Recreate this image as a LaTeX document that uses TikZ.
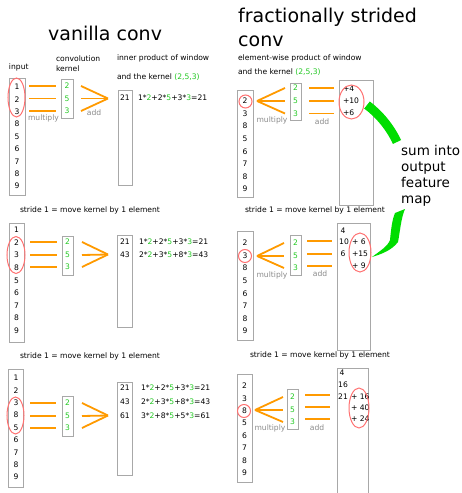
\documentclass[tikz,border=0pt]{standalone}
\usepackage{fontspec}
\setmainfont{DejaVu Sans}
\usetikzlibrary{shapes.geometric}
\definecolor{korange}{HTML}{FF9A00}
\definecolor{kgreen}{HTML}{22C822}
\definecolor{bandgreen}{HTML}{00DD00}
\definecolor{kred}{HTML}{FF7070}
\definecolor{boxgray}{HTML}{A8A8A8}
\definecolor{labelgray}{HTML}{8A8A8A}
\newcommand{\gn}[1]{\textcolor{kgreen}{#1}}
\begin{document}
\begin{tikzpicture}[x=1pt,y=-1pt,
  txt/.style={inner sep=0pt, outer sep=0pt, font=\fontsize{7.6}{9}\selectfont},
  num/.style={txt, anchor=mid},
  lbl/.style={txt, anchor=mid west},
  gnum/.style={num, text=kgreen},
  graylbl/.style={num, text=labelgray},
  colbox/.style={rectangle, draw=boxgray, line width=0.9pt, inner sep=0pt, outer sep=0pt},
  oline/.style={draw=korange, line width=1.8pt},
  ring/.style={ellipse, draw=kred, line width=1pt, inner sep=0pt, outer sep=0pt},
  title/.style={inner sep=0pt, anchor=base west, font=\fontsize{19}{24}\selectfont},
  big/.style={inner sep=0pt, anchor=base west, font=\fontsize{13.5}{16}\selectfont},
]
\useasboundingbox (0,0) rectangle (461,493);

%================ LEFT PANEL 1 =================
\node[title] (t1) at (48,40.7) {vanilla conv};
\node[lbl] (a-input) at (9,67) {input};
\node[lbl] (a-conv) at (56,59) {convolution};
\node[lbl] (a-kern) at (56,69) {kernel};
\node[lbl] (a-ip1) at (117,58) {inner product of window};
\node[lbl] (a-ip2) at (117,77) {and the kernel \gn{(2,5,3)}};
\node[colbox, minimum width=16pt, minimum height=117pt] (a-inbox) at (17,136.5) {};
\foreach \v [count=\i] in {1,2,3,8,5,6,7,8,9}
  \node[num] (a-in\i) at (17,{87+(\i-1)*12.38}) {\v};
\node[ring, minimum width=17pt, minimum height=39pt] (a-ell) at (16.5,97.5) {};
\node[colbox, minimum width=12pt, minimum height=39pt] (a-kbox) at (67,98.5) {};
\coordinate (a-sum) at (108,98.5);
\foreach \y/\v [count=\k] in {86/2,98.5/5,111/3} {
  \node[gnum] (a-k\k) at (67,\y) {\v};
  \coordinate (a-ms\k) at (29,\y); \coordinate (a-me\k) at (56,\y);
  \draw[oline] (a-ms\k) -- (a-me\k);
  \coordinate (a-as\k) at (81,\y);
  \draw[oline] (a-as\k) -- (a-sum);
}
\node[graylbl] (a-mult) at (43.5,117.5) {multiply};
\node[graylbl] (a-add) at (94,112.5) {add};
\node[colbox, minimum width=14pt, minimum height=95pt] (a-obox) at (125,137.5) {};
\node[num] (a-o1) at (125,98) {21};
\node[lbl] (a-eq1) at (138,98) {1*\gn{2}+2*\gn{5}+3*\gn{3}=21};

%================ LEFT PANEL 2 =================
\node[lbl] (b-stride) at (20,210) {stride 1 = move kernel by 1 element};
\node[colbox, minimum width=15pt, minimum height=119pt] (b-inbox) at (16.5,282.5) {};
\foreach \v [count=\i] in {1,2,3,8,5,6,7,8,9}
  \node[num] (b-in\i) at (16.5,{230+(\i-1)*12.6}) {\v};
\node[ring, minimum width=18pt, minimum height=37pt] (b-ell) at (16,255) {};
\node[colbox, minimum width=11pt, minimum height=39pt] (b-kbox) at (67.5,255.5) {};
\coordinate (b-sum) at (108,254.5);
\foreach \y/\v [count=\k] in {242/2,255/5,267/3} {
  \node[gnum] (b-k\k) at (67.5,\y) {\v};
  \coordinate (b-ms\k) at (30,\y); \coordinate (b-me\k) at (57,\y);
  \draw[oline] (b-ms\k) -- (b-me\k);
  \coordinate (b-as\k) at (82,\y);
  \draw[oline] (b-as\k) -- (b-sum);
}
\node[colbox, minimum width=15pt, minimum height=92pt] (b-obox) at (124.5,281) {};
\node[num] (b-o1) at (125,242) {21};
\node[num] (b-o2) at (125,255) {43};
\node[lbl] (b-eq1) at (139,242) {1*\gn{2}+2*\gn{5}+3*\gn{3}=21};
\node[lbl] (b-eq2) at (139,255) {2*\gn{2}+3*\gn{5}+8*\gn{3}=43};

%================ LEFT PANEL 3 =================
\node[lbl] (c-stride) at (20,356) {stride 1 = move kernel by 1 element};
\node[colbox, minimum width=15pt, minimum height=118pt] (c-inbox) at (16,428) {};
\foreach \v [count=\i] in {1,2,3,8,5,6,7,8,9}
  \node[num] (c-in\i) at (16,{378+(\i-1)*12.4}) {\v};
\node[ring, minimum width=17pt, minimum height=37pt] (c-ell) at (15.5,415.5) {};
\node[colbox, minimum width=11pt, minimum height=40pt] (c-kbox) at (67.5,416) {};
\coordinate (c-sum) at (108,415.5);
\foreach \y/\v [count=\k] in {403/2,416/5,428/3} {
  \node[gnum] (c-k\k) at (67.5,\y) {\v};
  \coordinate (c-ms\k) at (30,\y); \coordinate (c-me\k) at (56,\y);
  \draw[oline] (c-ms\k) -- (c-me\k);
  \coordinate (c-as\k) at (82,\y);
  \draw[oline] (c-as\k) -- (c-sum);
}
\node[colbox, minimum width=15pt, minimum height=93pt] (c-obox) at (124.5,428.5) {};
\node[num] (c-o1) at (125,388) {21};
\node[num] (c-o2) at (125,402) {43};
\node[num] (c-o3) at (125,416) {61};
\node[lbl] (c-eq1) at (141,388) {1*\gn{2}+2*\gn{5}+3*\gn{3}=21};
\node[lbl] (c-eq2) at (141,401.5) {2*\gn{2}+3*\gn{5}+8*\gn{3}=43};
\node[lbl] (c-eq3) at (141,416) {3*\gn{2}+8*\gn{5}+5*\gn{3}=61};

%================ RIGHT PANEL 1 =================
\node[title] (t2) at (238,22.7) {fractionally strided};
\node[title] (t3) at (238,46.7) {conv};
\node[lbl] (d-ew1) at (238,58) {element-wise product of window};
\node[lbl] (d-ew2) at (238,72) {and the kernel \gn{(2,5,3)}};
\node[colbox, minimum width=16pt, minimum height=107pt] (d-inbox) at (245,143.5) {};
\foreach \v [count=\i] in {2,3,8,5,6,7,8,9}
  \node[num] (d-in\i) at (245,{101+(\i-1)*12.6}) {\v};
\node[ring, circle, minimum size=13pt] (d-ring) at (245.5,101.5) {};
\coordinate (d-src) at (257,101);
\node[colbox, minimum width=11pt, minimum height=37pt] (d-kbox) at (295.5,101.5) {};
\foreach \y/\v [count=\k] in {88/2,101/5,113.5/3} {
  \node[gnum] (d-k\k) at (295.5,\y) {\v};
  \coordinate (d-fe\k) at (285,\y);
  \draw[oline] (d-src) -- (d-fe\k);
  \coordinate (d-as\k) at (309,\y); \coordinate (d-ae\k) at (334,\y);
  \draw[oline] (d-as\k) -- (d-ae\k);
}
\node[graylbl] (d-mult) at (272,120) {multiply};
\node[graylbl] (d-add) at (322,122) {add};
\node[colbox, minimum width=34pt, minimum height=125pt] (d-obox) at (356,142.5) {};
\node[lbl] (d-o1) at (343,89) {+4};
\node[lbl] (d-o2) at (343,101) {+10};
\node[lbl] (d-o3) at (343,113) {+6};
\node[ring, minimum width=25pt, minimum height=34pt] (d-ell) at (351.5,102) {};
\coordinate (band1s) at (367,105);
\coordinate (band1e) at (397,142);
\draw[draw=bandgreen, line width=9pt] (band1s) .. controls (379,114) and (390,127) .. (band1e);
\node[big] (sum1) at (401,155) {sum into};
\node[big] (sum2) at (401,171) {output};
\node[big] (sum3) at (401,187) {feature};
\node[big] (sum4) at (401,203) {map};

%================ RIGHT PANEL 2 =================
\node[lbl] (e-stride) at (245,210) {stride 1 = move kernel by 1 element};
\fill[bandgreen] (405,209) .. controls (401,218) and (400,232) .. (398,242)
  .. controls (392,250) and (382,254) .. (372,257)
  .. controls (380,251) and (388,246) .. (390,240)
  .. controls (391,230) and (392,220) .. (395,213) -- cycle;
\node[colbox, minimum width=16pt, minimum height=109pt] (e-inbox) at (245,285.5) {};
\foreach \v [count=\i] in {2,3,8,5,6,7,8,9}
  \node[num] (e-in\i) at (245,{243+(\i-1)*12.6}) {\v};
\node[ring, circle, minimum size=13pt] (e-ring) at (245,256) {};
\coordinate (e-src) at (257,256);
\node[colbox, minimum width=11pt, minimum height=40pt] (e-kbox) at (295.5,255) {};
\foreach \y/\v/\ay [count=\k] in {243/2/241,256/5/254,268/3/266} {
  \node[gnum] (e-k\k) at (295.5,\y) {\v};
  \coordinate (e-fe\k) at (284,\y);
  \draw[oline] (e-src) -- (e-fe\k);
  \coordinate (e-as\k) at (307,\ay); \coordinate (e-ae\k) at (332,\ay);
  \draw[oline] (e-as\k) -- (e-ae\k);
}
\node[graylbl] (e-mult) at (272,275) {multiply};
\node[graylbl] (e-add) at (320,274) {add};
\node[colbox, minimum width=33pt, minimum height=127pt] (e-obox) at (353.5,286.5) {};
\node[num] (e-o1) at (343,231) {4};
\node[num] (e-o2) at (344,242) {10};
\node[lbl] (e-p1) at (352,242) {+ 6};
\node[num] (e-o3) at (343,253.5) {6};
\node[lbl] (e-p2) at (352,253.5) {+15};
\node[lbl] (e-p3) at (352,266) {+ 9};
\node[ring, minimum width=22pt, minimum height=39pt] (e-ell) at (360,252.5) {};

%================ RIGHT PANEL 3 =================
\node[lbl] (f-stride) at (250,355) {stride 1 = move kernel by 1 element};
\node[colbox, minimum width=15pt, minimum height=108pt] (f-inbox) at (244.5,428) {};
\foreach \v [count=\i] in {2,3,8,5,6,7,8,9}
  \node[num] (f-in\i) at (244.5,{386+(\i-1)*12.42}) {\v};
\node[ring, circle, minimum size=13pt] (f-ring) at (244,411) {};
\coordinate (f-src) at (255,410);
\node[colbox, minimum width=11pt, minimum height=40pt] (f-kbox) at (292.5,409) {};
\foreach \y/\v/\ay [count=\k] in {397/2/395,410/5/407,422/3/419} {
  \node[gnum] (f-k\k) at (292.5,\y) {\v};
  \coordinate (f-fe\k) at (283,\y);
  \draw[oline] (f-src) -- (f-fe\k);
  \coordinate (f-as\k) at (305,\ay); \coordinate (f-ae\k) at (330,\ay);
  \draw[oline] (f-as\k) -- (f-ae\k);
}
\node[graylbl] (f-mult) at (270,428) {multiply};
\node[graylbl] (f-add) at (317,428) {add};
\coordinate (f-b1) at (337,494); \coordinate (f-b2) at (337,368);
\coordinate (f-b3) at (368,368); \coordinate (f-b4) at (368,494);
\draw[draw=boxgray, line width=0.9pt] (f-b1) -- (f-b2) -- (f-b3) -- (f-b4);
\node[num] (f-o1) at (342,373) {4};
\node[num] (f-o2) at (343,384.5) {16};
\node[num] (f-o3) at (343,397) {21};
\node[lbl] (f-p1) at (351,397) {+ 16};
\node[lbl] (f-p2) at (351,408) {+ 40};
\node[lbl] (f-p3) at (351,419) {+ 24};
\node[ring, minimum width=20pt, minimum height=40pt] (f-ell) at (359,408) {};
\end{tikzpicture}
\end{document}
